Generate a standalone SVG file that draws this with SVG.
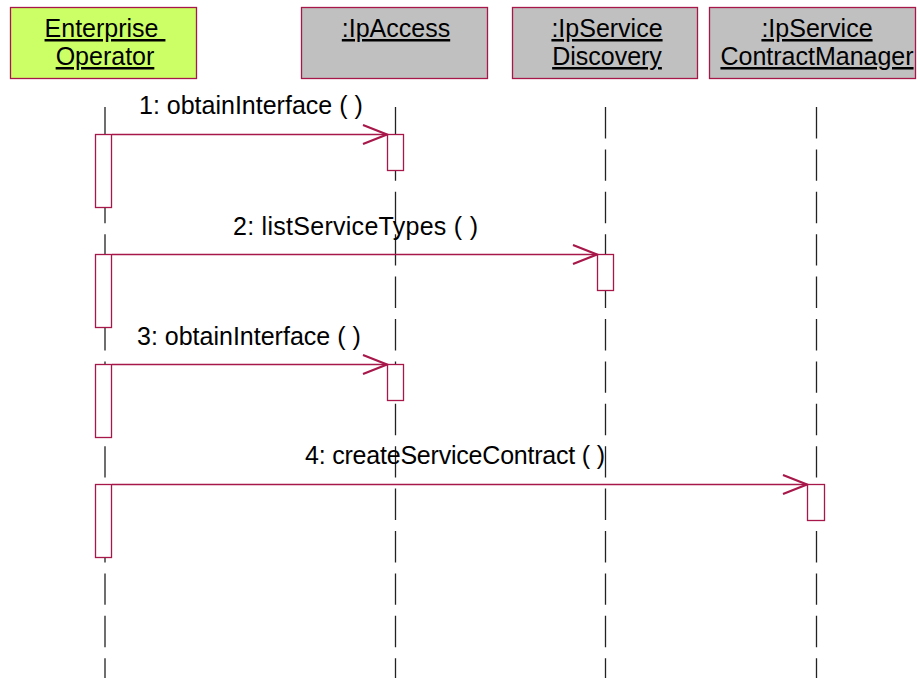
<svg xmlns="http://www.w3.org/2000/svg" width="917" height="678" viewBox="0 0 917 678">
<defs>
<style>
text{font-family:"Liberation Sans",Arial,sans-serif;font-size:25px;fill:#000}
.obj{stroke:#A8174A;stroke-width:1.3}
.name{text-anchor:middle;text-decoration:underline;white-space:pre}
.life{stroke:#222;stroke-width:1.3;stroke-dasharray:31.4 11;fill:none}
.act{fill:#fff;stroke:#A8174A;stroke-width:1.3}
.msg{stroke:#A8174A;stroke-width:1.3;fill:none}
.head{stroke:#A8174A;stroke-width:2.2;fill:none}
</style>
</defs>
<g id="lifelines">
<line class="life" x1="105" y1="107" x2="105" y2="678"/>
<line class="life" x1="395.5" y1="107" x2="395.5" y2="678"/>
<line class="life" x1="605.5" y1="107" x2="605.5" y2="678"/>
<line class="life" x1="816.5" y1="107" x2="816.5" y2="678"/>
</g>
<g id="enterprise-operator">
<rect class="obj" x="10.5" y="7.5" width="186" height="71" fill="#CCFF66"/>
<text class="name" x="105" y="37" xml:space="preserve">Enterprise </text>
<text class="name" x="105" y="65">Operator</text>
</g>
<g id="ipaccess">
<rect class="obj" x="301.5" y="7.5" width="186" height="71" fill="#C0C0C0"/>
<text class="name" x="396" y="37">:IpAccess</text>
</g>
<g id="ipservice-discovery">
<rect class="obj" x="512.5" y="7.5" width="185" height="71" fill="#C0C0C0"/>
<text class="name" x="607" y="37">:IpService</text>
<text class="name" x="607" y="65">Discovery</text>
</g>
<g id="ipservice-contractmanager">
<rect class="obj" x="709.5" y="7.5" width="206" height="71" fill="#C0C0C0"/>
<text class="name" x="817" y="37">:IpService</text>
<text class="name" x="817" y="65">ContractManager</text>
</g>
<g id="activations">
<rect class="act" x="95.5" y="134.5" width="16" height="73"/>
<rect class="act" x="95.5" y="254.5" width="16" height="73"/>
<rect class="act" x="95.5" y="364.5" width="16" height="73"/>
<rect class="act" x="95.5" y="484.5" width="16" height="73"/>
<rect class="act" x="387.5" y="134.5" width="16" height="36"/>
<rect class="act" x="597.5" y="254.5" width="16" height="36"/>
<rect class="act" x="387.5" y="364.5" width="16" height="36"/>
<rect class="act" x="807.5" y="484.5" width="17" height="36"/>
</g>
<g id="connectors">
<line class="msg" x1="112" y1="134.5" x2="387" y2="134.5"/>
<polyline class="head" points="363,125 387,134.5 363,144"/>
<text x="139" y="114">1: obtainInterface ( )</text>
<line class="msg" x1="112" y1="254.5" x2="597" y2="254.5"/>
<polyline class="head" points="573,245 597,254.5 573,264"/>
<text x="233" y="235" textLength="245">2: listServiceTypes ( )</text>
<line class="msg" x1="112" y1="364.5" x2="387" y2="364.5"/>
<polyline class="head" points="363,355 387,364.5 363,374"/>
<text x="137" y="345">3: obtainInterface ( )</text>
<line class="msg" x1="112" y1="484.5" x2="807" y2="484.5"/>
<polyline class="head" points="783,475 807,484.5 783,494"/>
<text x="305" y="464" textLength="300">4: createServiceContract ( )</text>
</g>
</svg>
